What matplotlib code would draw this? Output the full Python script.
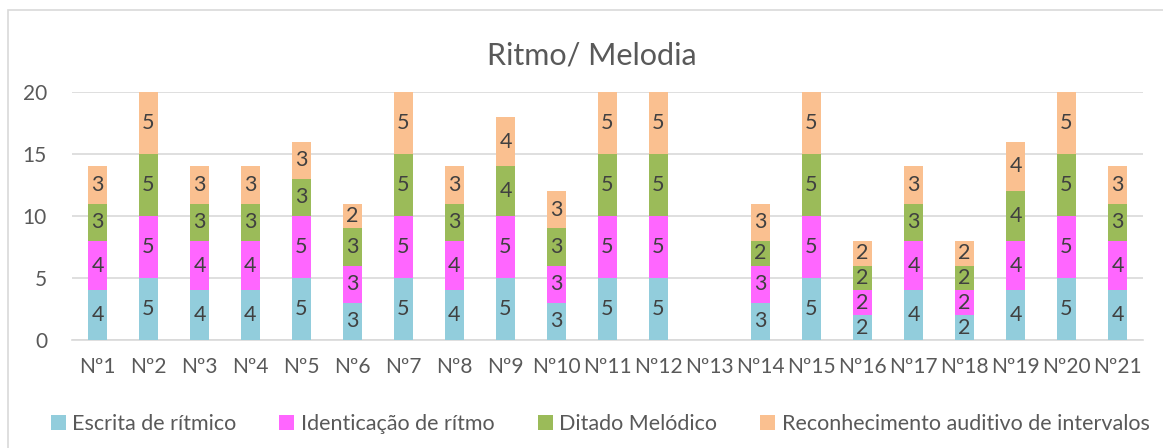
import numpy as np
import matplotlib.pyplot as plt
from matplotlib.patches import Rectangle

plt.rcParams['font.family'] = ['Lato', 'DejaVu Sans']

categories = ['Nº%d' % i for i in range(1, 22)]
escrita = [4, 5, 4, 4, 5, 3, 5, 4, 5, 3, 5, 5, 0, 3, 5, 2, 4, 2, 4, 5, 4]
identicacao = [4, 5, 4, 4, 5, 3, 5, 4, 5, 3, 5, 5, 0, 3, 5, 2, 4, 2, 4, 5, 4]
ditado = [3, 5, 3, 3, 3, 3, 5, 3, 4, 3, 5, 5, 0, 2, 5, 2, 3, 2, 4, 5, 3]
reconhecimento = [3, 5, 3, 3, 3, 2, 5, 3, 4, 3, 5, 5, 0, 3, 5, 2, 3, 2, 4, 5, 3]

series = [
    ('Escrita de rítmico', escrita, '#92CDDC'),
    ('Identicação de rítmo', identicacao, '#FF66FF'),
    ('Ditado Melódico', ditado, '#9BBB59'),
    ('Reconhecimento auditivo de intervalos', reconhecimento, '#FAC090'),
]

text_color = '#595959'

fig = plt.figure(figsize=(11.63, 4.48), dpi=100)
# chart frame
fig.patches.append(Rectangle((8 / 1163, -0.05), 1.1, 1 - 10 / 448 + 0.05,
                             transform=fig.transFigure, fill=False,
                             edgecolor='#D9D9D9', linewidth=1.2))

ax = fig.add_axes([72 / 1163, 1 - 340 / 448, (1143 - 72) / 1163, (340 - 92) / 448])

x = np.arange(len(categories))
bottom = np.zeros(len(categories))
for name, vals, color in series:
    vals = np.array(vals)
    bars = ax.bar(x, vals, 0.39, bottom=bottom, color=color, label=name, zorder=3)
    for xi, b, v in zip(x, bottom, vals):
        if v > 0:
            ax.text(xi, b + v / 2, str(v), ha='center', va='center',
                    fontsize=15.5, color='#404040', zorder=4)
    bottom += vals

ax.set_xlim(-0.5, len(categories) - 0.5)
ax.set_ylim(0, 20)
ax.set_yticks([0, 5, 10, 15, 20])
ax.set_xticks(x)
ax.set_xticklabels(categories)
ax.grid(axis='y', color='#D9D9D9', linewidth=1.2, zorder=0)
for s in ['top', 'right', 'left']:
    ax.spines[s].set_visible(False)
ax.spines['bottom'].set_color('#D9D9D9')
ax.spines['bottom'].set_linewidth(1.2)
ax.tick_params(axis='both', length=0, labelsize=15, colors=text_color)
ax.tick_params(axis='x', pad=12)
ax.tick_params(axis='y', pad=18)

fig.text(592 / 1163, 1 - 55 / 448, 'Ritmo/ Melodia', ha='center', va='center',
         fontsize=22, color=text_color)

handles, labels = ax.get_legend_handles_labels()
fig.legend(handles, labels, loc='center', bbox_to_anchor=(0.516, 1 - 424 / 448),
           ncol=4, frameon=False, fontsize=15.5, labelcolor=text_color,
           handlelength=0.7, handleheight=0.7, handletextpad=0.3, columnspacing=2.0)

fig.savefig('out.png', dpi=100)
